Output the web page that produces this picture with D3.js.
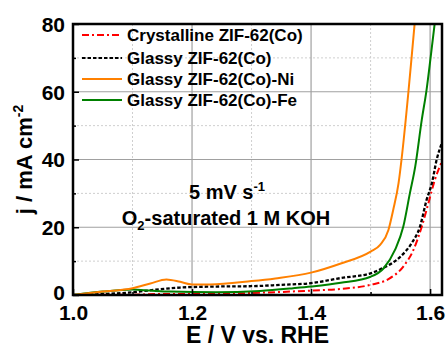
<!DOCTYPE html>
<html><head><meta charset="utf-8">
<script src="https://cdn.jsdelivr.net/npm/d3@7"></script>
<style>body{margin:0;background:#fff}svg{display:block}text{font-family:Arial,"Liberation Sans",sans-serif;font-weight:bold}</style>
</head><body>
<svg id="c" width="447" height="347"></svg>
<script>
const xTicks = [1.0, 1.2, 1.4, 1.6];
const xMinor = [1.1, 1.3, 1.5];
const yTicks = [0, 20, 40, 60, 80];
const yMinor = [10, 30, 50, 70];
const seriesNames = ["Crystalline ZIF-62(Co)", "Glassy ZIF-62(Co)", "Glassy ZIF-62(Co)-Ni", "Glassy ZIF-62(Co)-Fe"];
const seriesColors = ["#ff0000", "#000000", "#ff8000", "#008000"];
const seriesDash = ["7,3,2,3", "3.5,2", null, null];

const crysE = [1.00, 1.05, 1.10, 1.15, 1.20, 1.25, 1.30, 1.35, 1.40, 1.45, 1.50, 1.53, 1.555, 1.572, 1.586, 1.597, 1.608, 1.62];
const crysJ = [0, 0.05, 0.1, 0.3, 0.3, 0.4, 0.6, 0.9, 1.3, 1.8, 3.0, 4.7, 8.4, 13.3, 20.2, 27, 34, 39.5];
const glassE = [1.00, 1.05, 1.10, 1.135, 1.18, 1.24, 1.30, 1.35, 1.40, 1.45, 1.50, 1.52, 1.55, 1.569, 1.583, 1.594, 1.603, 1.611, 1.62];
const glassJ = [0, 0.3, 0.8, 1.5, 2.2, 2.5, 2.6, 3.0, 3.5, 5.0, 6.4, 7.9, 11.3, 15.3, 20.2, 28, 33, 39.9, 45];
const niE = [1.00, 1.05, 1.10, 1.13, 1.157, 1.18, 1.20, 1.23, 1.30, 1.34, 1.40, 1.45, 1.50, 1.516, 1.53, 1.538, 1.547, 1.552, 1.5636, 1.569, 1.575];
const niJ = [0, 1.0, 2.0, 3.4, 4.6, 3.9, 3.1, 3.1, 4.1, 4.9, 6.6, 9.3, 12.8, 14.8, 19.2, 25.1, 33, 40, 60, 70.3, 82];
const feE = [1.00, 1.05, 1.10, 1.13, 1.163, 1.24, 1.314, 1.37, 1.40, 1.45, 1.50, 1.522, 1.541, 1.555, 1.566, 1.575, 1.586, 1.594, 1.601, 1.609];
const feJ = [0, 1.0, 1.6, 1.3, 1.0, 0.8, 1.2, 2.0, 2.5, 3.6, 5.4, 7.9, 13.3, 20.2, 30, 37.9, 51.7, 60.5, 70.3, 82];

const seriesE = [crysE, glassE, niE, feE];
const seriesJ = [crysJ, glassJ, niJ, feJ];

const L = 73, R = 442, T = 24, B = 295;
const x = d3.scaleLinear().domain([1.0, 1.62]).range([L, R]);
const y = d3.scaleLinear().domain([0, 80]).range([B, T]);
const svg = d3.select("#c");

svg.append("defs").append("clipPath").attr("id", "clip")
  .append("rect").attr("x", L).attr("y", T).attr("width", R - L).attr("height", B - T);

// grid
const g = svg.append("g");
g.selectAll(".gxm").data(xMinor).join("line")
  .attr("x1", d => x(d)).attr("x2", d => x(d)).attr("y1", T).attr("y2", B)
  .attr("stroke", "#cfcfcf").attr("stroke-width", 1).attr("stroke-dasharray", "2,2");
g.selectAll(".gym").data(yMinor).join("line")
  .attr("y1", d => y(d)).attr("y2", d => y(d)).attr("x1", L).attr("x2", R)
  .attr("stroke", "#cfcfcf").attr("stroke-width", 1).attr("stroke-dasharray", "2,2");
g.selectAll(".gx").data(xTicks.slice(1)).join("line")
  .attr("x1", d => x(d)).attr("x2", d => x(d)).attr("y1", T).attr("y2", B)
  .attr("stroke", "#a0a0a0").attr("stroke-width", 1.2);
g.selectAll(".gy").data(yTicks.slice(1, 4)).join("line")
  .attr("y1", d => y(d)).attr("y2", d => y(d)).attr("x1", L).attr("x2", R)
  .attr("stroke", "#a0a0a0").attr("stroke-width", 1.2);

// curves
const line = d3.line().x(d => x(d[0])).y(d => y(d[1])).curve(d3.curveMonotoneX);
const plot = svg.append("g").attr("clip-path", "url(#clip)");
const order = [0, 1, 3, 2];
order.forEach(i => {
  const pts = seriesE[i].map((e, k) => [e, seriesJ[i][k]]);
  plot.append("path").datum(pts).attr("d", line)
    .attr("fill", "none").attr("stroke", seriesColors[i]).attr("stroke-width", i === 1 ? 2.3 : 2)
    .attr("stroke-dasharray", seriesDash[i]);
});

// axes
const xAxis = d3.axisBottom(x).tickValues(xTicks).tickSize(-6).tickFormat(d3.format(".1f"));
const gx = svg.append("g").attr("transform", `translate(0,${B})`).call(xAxis);
gx.selectAll(".tick text").attr("font-size", 21).attr("font-weight", "bold").attr("fill", "#000").attr("dy", null).attr("y", 25);
const xAxisMinor = d3.axisBottom(x).tickValues(xMinor).tickSize(-3).tickFormat("");
svg.append("g").attr("transform", `translate(0,${B})`).call(xAxisMinor).select(".domain").remove();

const yAxis = d3.axisLeft(y).tickValues(yTicks).tickSize(-6);
const gy = svg.append("g").attr("transform", `translate(${L},0)`).call(yAxis);
gy.selectAll(".tick text").attr("font-size", 21).attr("font-weight", "bold").attr("fill", "#000").attr("x", -8)
  .attr("dy", d => d === 0 ? "0.2em" : "0.35em");
const yAxisMinor = d3.axisLeft(y).tickValues(yMinor).tickSize(-3).tickFormat("");
svg.append("g").attr("transform", `translate(${L},0)`).call(yAxisMinor).select(".domain").remove();
svg.selectAll(".tick line").attr("stroke", "#000").attr("stroke-width", 1.5);
svg.selectAll(".domain").remove();

// frame
svg.append("rect").attr("x", L).attr("y", T).attr("width", R - L).attr("height", B - T)
  .attr("fill", "none").attr("stroke", "#000").attr("stroke-width", 2.5);

// axis titles
svg.append("text").attr("x", (L + R) / 2).attr("y", 343).attr("text-anchor", "middle")
  .attr("font-size", 23).text("E / V vs. RHE");
const yl = svg.append("text").attr("transform", `translate(32,${(T + B) / 2}) rotate(-90)`)
  .attr("text-anchor", "middle").attr("font-size", 22);
yl.append("tspan").text("j / mA cm");
yl.append("tspan").attr("font-size", 14).attr("dy", -9).text("-2");

// annotations
const a1 = svg.append("text").attr("x", 227).attr("y", 199).attr("text-anchor", "middle").attr("font-size", 20);
a1.append("tspan").text("5 mV s");
a1.append("tspan").attr("font-size", 13).attr("dy", -8).text("-1");
const a2 = svg.append("text").attr("x", 226).attr("y", 225).attr("text-anchor", "middle").attr("font-size", 20);
a2.append("tspan").text("O");
a2.append("tspan").attr("font-size", 13).attr("dy", 5).text("2");
a2.append("tspan").attr("dy", -5).text("-saturated 1 M KOH");

// legend
const lg = svg.append("g");
const legY = [35, 58, 79, 100];
seriesNames.forEach((n, i) => {
  lg.append("line").attr("x1", 82).attr("x2", 122).attr("y1", legY[i]).attr("y2", legY[i])
    .attr("stroke", seriesColors[i]).attr("stroke-width", 2).attr("stroke-dasharray", seriesDash[i]);
  lg.append("text").attr("x", 127).attr("y", legY[i]).attr("dy", "0.36em").attr("font-size", 17).text(n);
});
</script>
</body></html>
